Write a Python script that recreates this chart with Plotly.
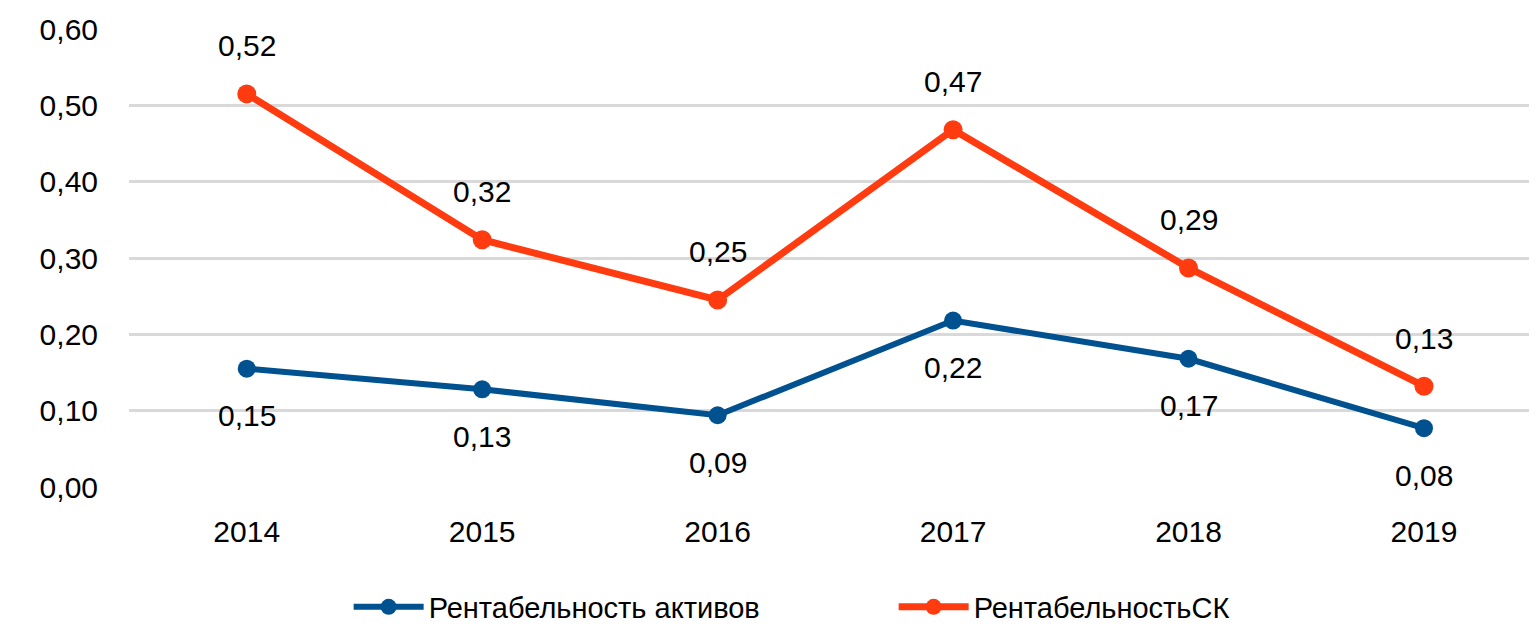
import plotly.graph_objects as go

years = ["2014", "2015", "2016", "2017", "2018", "2019"]
roa = [0.155, 0.128, 0.094, 0.218, 0.168, 0.077]
roe = [0.515, 0.324, 0.245, 0.468, 0.287, 0.132]
roa_labels = ["0,15", "0,13", "0,09", "0,22", "0,17", "0,08"]
roe_labels = ["0,52", "0,32", "0,25", "0,47", "0,29", "0,13"]
y_ticks = [0, 0.1, 0.2, 0.3, 0.4, 0.5, 0.6]
y_tick_labels = ["0,00", "0,10", "0,20", "0,30", "0,40", "0,50", "0,60"]

BLUE = "#00518F"
ORANGE = "#FF3B0F"
FONT = "Liberation Sans"
FS = 30

fig = go.Figure()
fig.add_trace(go.Scatter(
    x=years, y=roa, mode="lines+markers", name="Рентабельность активов",
    line=dict(color=BLUE, width=6), marker=dict(color=BLUE, size=18),
))
fig.add_trace(go.Scatter(
    x=years, y=roe, mode="lines+markers", name="РентабельностьСК",
    line=dict(color=ORANGE, width=7), marker=dict(color=ORANGE, size=19),
))

for i, (y, t) in enumerate(zip(roa, roa_labels)):
    fig.add_annotation(x=i, y=y, xref="x", yref="y", text=t, showarrow=False, yshift=-47,
                       font=dict(family=FONT, size=FS, color="#000000"))
for i, (y, t) in enumerate(zip(roe, roe_labels)):
    fig.add_annotation(x=i, y=y, xref="x", yref="y", text=t, showarrow=False, yshift=48,
                       font=dict(family=FONT, size=FS, color="#000000"))

fig.update_layout(
    width=1537, height=628,
    margin=dict(l=121, r=8, t=21, b=149, autoexpand=False),
    paper_bgcolor="white", plot_bgcolor="white",
    font=dict(family=FONT, size=FS, color="#000000"),
    showlegend=True,
    legend=dict(orientation="h", x=0.156, xanchor="left", y=-0.262, yanchor="middle",
                font=dict(family=FONT, size=29), itemwidth=70,
                entrywidth=460, entrywidthmode="pixels"),
)
fig.update_xaxes(
    type="category", range=[-0.5, 5.48], showgrid=False, zeroline=False,
    showline=False, ticks="", ticklabelstandoff=24, automargin=False,
    tickfont=dict(family=FONT, size=FS),
)
fig.update_yaxes(
    range=[0, 0.6], tickvals=y_ticks, ticktext=y_tick_labels,
    showgrid=True, gridcolor="#D9D9D9", gridwidth=2.5, zeroline=False,
    showline=False, ticks="", ticklabelstandoff=30, automargin=False,
    tickfont=dict(family=FONT, size=FS),
)

fig.write_html("out.html")
